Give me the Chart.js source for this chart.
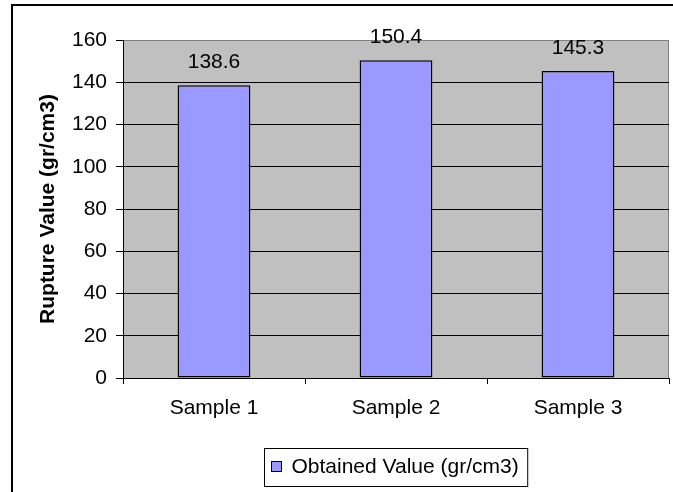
<!DOCTYPE html>
<html>
<head>
<meta charset="utf-8">
<script src="https://cdn.jsdelivr.net/npm/chart.js@4/dist/chart.umd.min.js"></script>
<style>
  html, body { margin: 0; padding: 0; background: #fff; }
  #wrap { position: relative; width: 673px; height: 492px; }
</style>
</head>
<body>
<div id="wrap"><canvas id="c" width="673" height="492"></canvas></div>
<script>
// Rupture test results per sample
const categories = ['Sample 1', 'Sample 2', 'Sample 3'];
const obtainedValues = [138.6, 150.4, 145.3];
const seriesLabel = 'Obtained Value (gr/cm3)';
const yTicks = [0, 20, 40, 60, 80, 100, 120, 140, 160];
const yTitle = 'Rupture Value (gr/cm3)';

const FONT = '"Liberation Sans", Arial, sans-serif';

// Frame, plot background, value labels and legend box
const decor = {
  id: 'decor',
  beforeDraw(chart) {
    const { ctx, chartArea: a } = chart;
    ctx.save();
    ctx.fillStyle = '#fff';
    ctx.fillRect(0, 0, chart.width, chart.height);
    ctx.fillStyle = '#000';
    ctx.fillRect(11, 4, 2, chart.height);
    ctx.fillRect(11, 4, chart.width, 2);
    ctx.fillStyle = '#C0C0C0';
    ctx.fillRect(a.left, a.top, a.right - a.left, a.bottom - a.top);
    ctx.strokeStyle = '#808080';
    ctx.lineWidth = 1;
    ctx.beginPath();
    ctx.moveTo(a.left, a.top + 0.5);
    ctx.lineTo(a.right - 0.5, a.top + 0.5);
    ctx.lineTo(a.right - 0.5, a.bottom);
    ctx.stroke();
    ctx.restore();
  },
  afterDatasetsDraw(chart) {
    const { ctx, chartArea: a } = chart;
    const meta = chart.getDatasetMeta(0);
    const ds = chart.data.datasets[0];
    ctx.save();
    ctx.fillStyle = '#000';
    ctx.font = '21px ' + FONT;
    ctx.textAlign = 'center';
    ctx.textBaseline = 'alphabetic';
    meta.data.forEach((bar, i) => {
      ctx.fillText(ds.data[i].toFixed(1), bar.x, bar.y - 17);
    });

    // legend
    ctx.font = '21px ' + FONT;
    const tw = ctx.measureText(ds.label).width;
    const boxW = 10, gap = 10, padX = 7;
    const w = padX + boxW + gap + tw + padX + 2;
    const cx = (a.left + a.right) / 2;
    const x0 = Math.round(cx - w / 2) + 0.5;
    const y0 = 448.5, h = 38;
    ctx.strokeStyle = '#000';
    ctx.lineWidth = 1;
    ctx.strokeRect(x0, y0, w, h);
    const mx = x0 + padX, my = y0 + 13;
    ctx.fillStyle = ds.backgroundColor;
    ctx.fillRect(mx, my, boxW, boxW);
    ctx.strokeRect(mx, my, boxW, boxW);
    ctx.fillStyle = '#000';
    ctx.textAlign = 'left';
    ctx.textBaseline = 'middle';
    ctx.fillText(ds.label, mx + boxW + gap, y0 + h / 2);
    ctx.restore();
  }
};

new Chart(document.getElementById('c'), {
  type: 'bar',
  data: {
    labels: categories,
    datasets: [{
      label: seriesLabel,
      data: obtainedValues,
      backgroundColor: '#9999FF',
      borderColor: '#000',
      borderWidth: 1.5,
      borderSkipped: false,
      barPercentage: 0.4,
      categoryPercentage: 1
    }]
  },
  options: {
    responsive: false,
    animation: false,
    events: [],
    layout: { padding: { top: 40, right: 4, bottom: 0, left: 0 } },
    plugins: { legend: { display: false }, tooltip: { enabled: false } },
    scales: {
      x: {
        afterFit(s) { s.height = 114; },
        grid: {
          offset: true,
          drawOnChartArea: false,
          drawTicks: true,
          tickLength: 6,
          tickColor: '#000'
        },
        border: { color: '#000', width: 1 },
        ticks: { color: '#000', font: { family: FONT, size: 21 }, padding: 12 }
      },
      y: {
        min: 0,
        max: 160,
        afterFit(s) { s.width = 123; },
        afterBuildTicks(s) { s.ticks = yTicks.map(v => ({ value: v })); },
        grid: {
          color: ctx => (ctx.tick && ctx.tick.value === 160) ? '#808080' : '#000',
          lineWidth: 1,
          drawTicks: true,
          tickLength: 7,
          tickColor: '#000'
        },
        border: { color: '#000', width: 1 },
        ticks: { color: '#000', font: { family: FONT, size: 21 }, padding: 9 },
        title: {
          display: true,
          text: yTitle,
          color: '#000',
          font: { family: FONT, size: 21, weight: 'bold' },
          padding: { top: 36, bottom: 0 }
        }
      }
    }
  },
  plugins: [decor]
});
</script>
</body>
</html>
